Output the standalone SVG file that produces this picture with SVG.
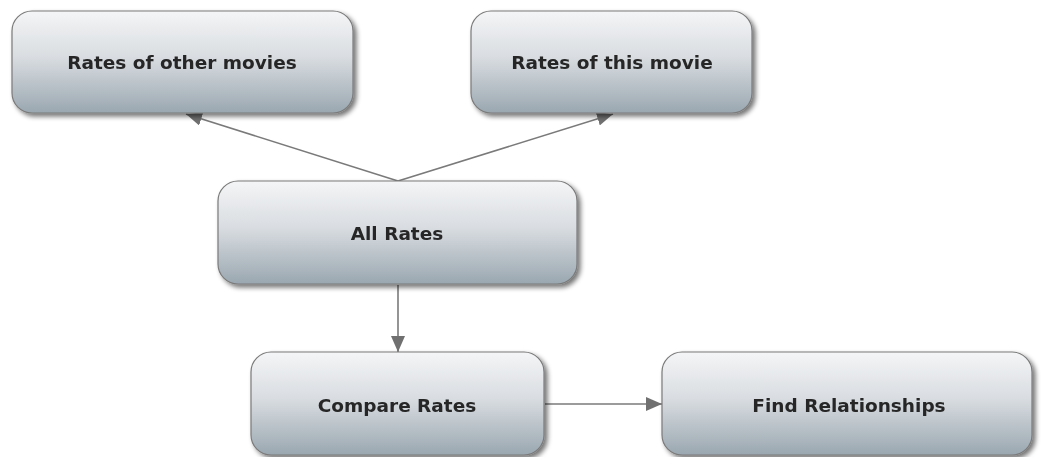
<svg xmlns="http://www.w3.org/2000/svg" width="1041" height="457" viewBox="0 0 1041 457">
  <defs>
    <linearGradient id="nodeFill" x1="0" y1="0" x2="0" y2="1">
      <stop offset="0" stop-color="#f4f5f6"/>
      <stop offset="0.45" stop-color="#d9dde1"/>
      <stop offset="1" stop-color="#9aa7b0"/>
    </linearGradient>
    <filter id="shadow" x="-10%" y="-10%" width="125%" height="130%">
      <feGaussianBlur in="SourceAlpha" stdDeviation="2.5"/>
      <feOffset dx="3" dy="3" result="b"/>
      <feComponentTransfer><feFuncA type="linear" slope="0.55"/></feComponentTransfer>
      <feMerge><feMergeNode/><feMergeNode in="SourceGraphic"/></feMerge>
    </filter>
    <filter id="soft"><feGaussianBlur stdDeviation="0.4"/></filter>
    <marker id="head" viewBox="0 0 16 14" refX="16" refY="7" markerWidth="16" markerHeight="14" markerUnits="userSpaceOnUse" orient="auto">
      <path d="M0,0 L16,7 L0,14 z" fill="#707070"/>
    </marker>
  </defs>
  <style>
    .box { fill: url(#nodeFill); stroke: #7a7a7a; stroke-width: 1.2; filter: url(#shadow); }
    .label { font-family: "DejaVu Sans", Verdana, sans-serif; font-weight: bold; font-size: 18.5px; fill: #262626; text-anchor: middle; dominant-baseline: central; filter: url(#soft); }
    .edge { stroke: #7a7a7a; stroke-width: 1.6; fill: none; marker-end: url(#head); }
  </style>

  <rect width="1041" height="457" fill="#ffffff"/>

  <g id="connectors">
    <line class="edge" x1="398" y1="181" x2="186" y2="114"/>
    <line class="edge" x1="398" y1="181" x2="613" y2="114"/>
    <line class="edge" x1="398" y1="285" x2="398" y2="352"/>
    <line class="edge" x1="545" y1="404" x2="662" y2="404"/>
  </g>

  <g id="node-other">
    <rect class="box" x="12" y="11" width="341" height="102" rx="20"/>
    <text class="label" x="182" y="62">Rates of other movies</text>
  </g>
  <g id="node-this">
    <rect class="box" x="471" y="11" width="281" height="102" rx="20"/>
    <text class="label" x="612" y="62">Rates of this movie</text>
  </g>
  <g id="node-all">
    <rect class="box" x="218" y="181" width="359" height="103" rx="20"/>
    <text class="label" x="397" y="233">All Rates</text>
  </g>
  <g id="node-compare">
    <rect class="box" x="251" y="352" width="293" height="103" rx="20"/>
    <text class="label" x="397" y="405">Compare Rates</text>
  </g>
  <g id="node-find">
    <rect class="box" x="662" y="352" width="370" height="103" rx="20"/>
    <text class="label" x="849" y="405">Find Relationships</text>
  </g>
</svg>
